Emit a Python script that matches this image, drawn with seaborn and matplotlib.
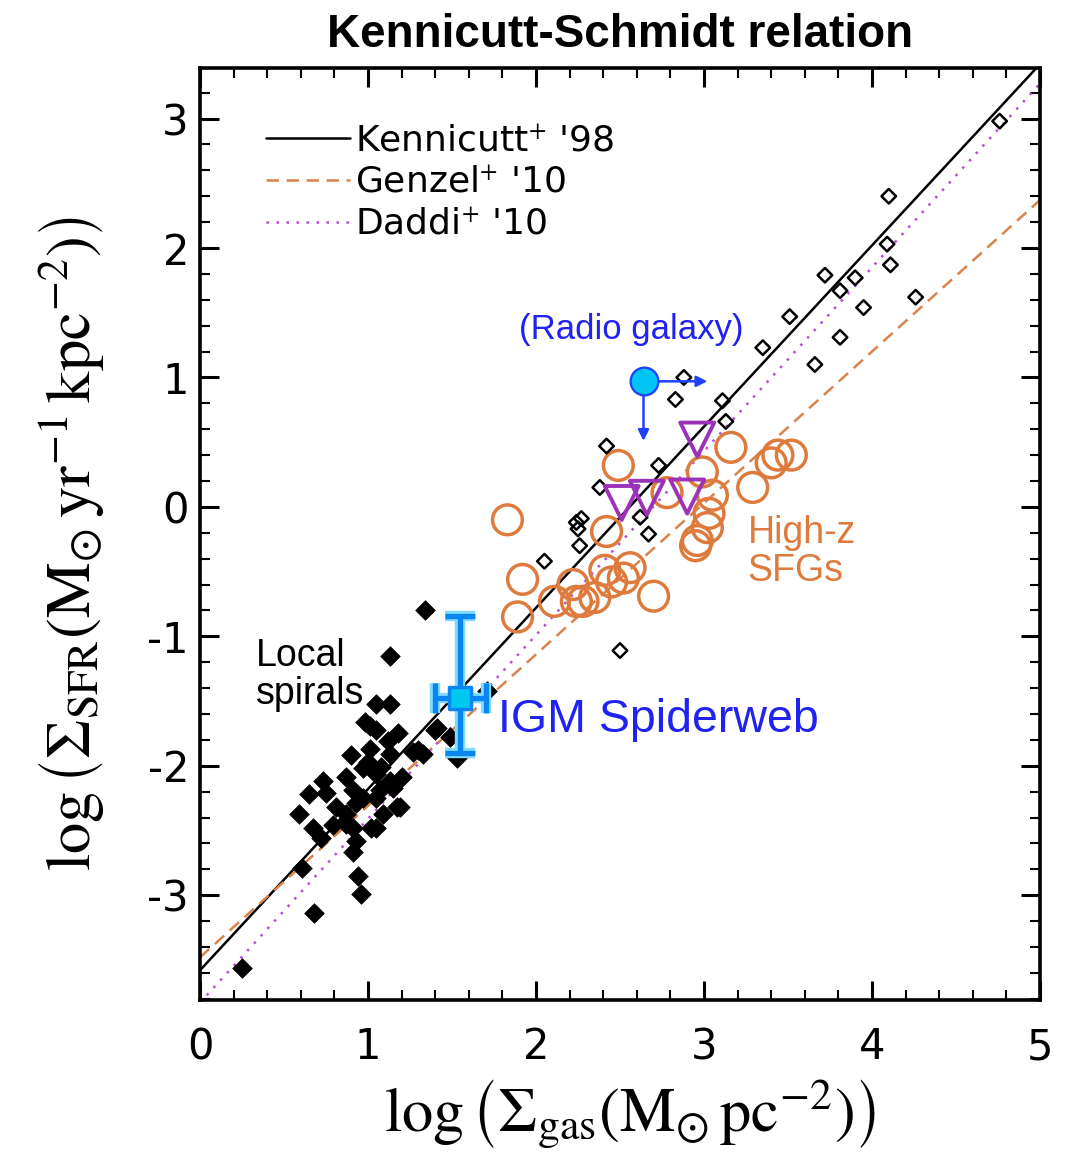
import numpy as np
import pandas as pd
import matplotlib
matplotlib.use("Agg")
import matplotlib.pyplot as plt
import seaborn as sns
from matplotlib.ticker import MultipleLocator

# ---------------- data ----------------
local_x = [1.34, 1.13, 1.05, 1.13, 0.98, 1.01, 1.05, 1.18, 1.12, 1.71, 1.53, 1.41,
           0.90, 1.01, 1.00, 1.08, 1.13, 1.27, 1.33, 0.73, 0.65, 0.87, 0.91, 0.75,
           0.97, 1.05, 1.13, 1.20, 1.07, 1.15, 0.59, 0.81, 0.87, 0.93, 0.97, 1.05,
           1.17, 1.09, 1.19, 0.67, 0.72, 0.79, 0.87, 0.91, 1.02, 1.05, 0.93, 0.91,
           0.61, 0.94, 0.96, 0.68, 0.25, 1.30, 1.49, 1.40]
local_y = [-0.80, -1.15, -1.52, -1.52, -1.66, -1.69, -1.72, -1.75, -1.81, -1.42, -1.94, -1.71,
           -1.92, -1.87, -1.97, -2.01, -1.91, -1.89, -1.91, -2.12, -2.22, -2.09, -2.19, -2.21,
           -2.02, -2.06, -2.12, -2.09, -2.19, -2.17, -2.37, -2.32, -2.37, -2.29, -2.25, -2.25,
           -2.32, -2.37, -2.32, -2.48, -2.56, -2.46, -2.45, -2.48, -2.48, -2.48, -2.58, -2.67,
           -2.79, -2.85, -2.99, -3.14, -3.56, -1.88, -1.78, -1.72]

starburst_x = [4.76, 4.10, 4.09, 4.11, 4.26, 3.72, 3.81, 3.90, 3.95, 3.81, 3.51, 3.66,
               3.35, 2.88, 2.83, 3.11, 3.13, 2.42, 2.73, 2.38, 2.27, 2.25, 2.26, 2.05,
               2.62, 2.67, 2.50, 2.24]
starburst_y = [2.98, 2.40, 2.03, 1.87, 1.62, 1.79, 1.67, 1.77, 1.54, 1.31, 1.47, 1.10,
               1.23, 1.00, 0.83, 0.82, 0.66, 0.47, 0.32, 0.15, -0.09, -0.17, -0.30, -0.42,
               -0.08, -0.21, -1.11, -0.12]

sfg_x = [1.83, 2.49, 3.16, 2.99, 3.44, 3.52, 3.40, 3.29, 3.05, 3.03, 3.02, 2.96,
         2.95, 2.42, 1.92, 1.89, 2.11, 2.22, 2.28, 2.41, 2.45, 2.56, 2.70, 2.78,
         2.35, 2.52, 2.24]
sfg_y = [-0.10, 0.32, 0.46, 0.27, 0.40, 0.40, 0.34, 0.15, 0.09, -0.05, -0.16, -0.26,
         -0.30, -0.19, -0.56, -0.85, -0.73, -0.60, -0.73, -0.49, -0.58, -0.47, -0.69, 0.11,
         -0.70, -0.55, -0.73]

tri_x = [2.96, 2.51, 2.66, 2.90]
tri_y = [0.52, 0.03, 0.07, 0.08]

radio_x = [2.64]
radio_y = [0.97]
radio_xlim_end = [3.02]
radio_ylim_end = [0.51]

igm_x = [1.55]
igm_y = [-1.48]
igm_yerr_up = [0.64]
igm_yerr_lo = [0.42]
igm_xerr = [0.15]

rel_names = ["Kennicutt$^{+}$ '98", "Genzel$^{+}$ '10", "Daddi$^{+}$ '10"]
rel_slope = [1.40, 1.17, 1.42]
rel_icept = [-3.58, -3.48, -3.83]
rel_xrange = [0.0, 5.0]

xtick_vals = [0, 1, 2, 3, 4, 5]
xtick_labels = ["0", "1", "2", "3", "4", "5"]
ytick_vals = [-3, -2, -1, 0, 1, 2, 3]
ytick_labels = ["-3", "-2", "-1", "0", "1", "2", "3"]

# ---------------- style ----------------
sns.set_theme(style="ticks")
plt.rcParams["font.family"] = ["DejaVu Sans"]
plt.rcParams["mathtext.fontset"] = "stix"
plt.rcParams["text.color"] = "black"
plt.rcParams["axes.labelcolor"] = "black"
plt.rcParams["xtick.color"] = "black"
plt.rcParams["ytick.color"] = "black"

ORANGE = "#dd7a3c"
PURPLE = "#9b32b8"
DADDI = "#b84bd8"
GENZEL = "#d9824c"
BLUE_TXT = "#1f22f0"

fig = plt.figure(figsize=(10.65, 11.6), dpi=100)
ax = fig.add_axes([0.1878, 0.1379, 0.7887, 0.8034])

# relations
xr = np.array(rel_xrange)
styles = [("black", "-"), (GENZEL, (0, (5, 3))), (DADDI, (0, (1, 3)))]
for name, m, b, (c, ls) in zip(rel_names, rel_slope, rel_icept, styles):
    sns.lineplot(x=xr, y=m * xr + b, ax=ax, color=c, linestyle=ls, lw=1.8,
                 label=name, zorder=2)

# points
sns.scatterplot(x=local_x, y=local_y, ax=ax, marker="D", s=100, color="black",
                edgecolor="black", linewidth=0.5, zorder=3)
sns.scatterplot(x=sfg_x, y=sfg_y, ax=ax, marker="o", s=460, facecolor="none",
                edgecolor=ORANGE, linewidth=2.5, zorder=3)
sns.scatterplot(x=starburst_x, y=starburst_y, ax=ax, marker="D", s=55,
                facecolor="none", edgecolor="black", linewidth=1.8, zorder=4)
sns.scatterplot(x=tri_x, y=tri_y, ax=ax, marker="v", s=600, facecolor="none",
                edgecolor=PURPLE, linewidth=2.8, zorder=5)

# radio galaxy with limits
for x0, y0, x1, y1 in zip(radio_x, radio_y, radio_xlim_end, radio_ylim_end):
    ax.annotate("", xy=(x1, y0), xytext=(x0, y0),
                arrowprops=dict(arrowstyle="-|>", color="#2040ff", lw=1.8,
                                mutation_scale=16, shrinkA=0, shrinkB=0), zorder=6)
    ax.annotate("", xy=(x0, y1), xytext=(x0, y0),
                arrowprops=dict(arrowstyle="-|>", color="#2040ff", lw=1.8,
                                mutation_scale=16, shrinkA=0, shrinkB=0), zorder=6)
sns.scatterplot(x=radio_x, y=radio_y, ax=ax, marker="o", s=400, color="#00c4f4",
                edgecolor="#2040ff", linewidth=1.6, zorder=7)

# IGM Spiderweb
for lw, col in [(7.5, "#7fdcff"), (3.8, "#0a86f2")]:
    ax.errorbar(igm_x, igm_y, yerr=[igm_yerr_lo, igm_yerr_up], xerr=igm_xerr,
                fmt="none", ecolor=col, elinewidth=lw, capsize=11, capthick=lw,
                zorder=8)
ax.scatter(igm_x, igm_y, marker="s", s=230, color="#00c8f0", edgecolor="#0a86f2",
           linewidth=2.5, zorder=9)

# annotations
ax.text(0.33, -1.30, "Local\nspirals", fontsize=27, family="Liberation Sans",
        color="black", ha="left", va="center", linespacing=1.08)
ax.text(2.73, -1.65, "IGM Spiderweb", fontsize=33.5, family="Liberation Sans",
        color=BLUE_TXT, ha="center", va="center")
ax.text(2.57, 1.37, "(Radio galaxy)", fontsize=25, family="Liberation Sans",
        color=BLUE_TXT, ha="center", va="center")
ax.text(3.26, -0.35, "High-z\nSFGs", fontsize=27, family="Liberation Sans",
        color=ORANGE, ha="left", va="center", linespacing=1.08)

# axes
ax.set_xlim(0, 5)
ax.set_ylim(-3.81, 3.39)
ax.set_xticks(xtick_vals)
ax.set_xticklabels(xtick_labels)
ax.set_yticks(ytick_vals)
ax.set_yticklabels(ytick_labels)
ax.xaxis.set_minor_locator(MultipleLocator(0.2))
ax.yaxis.set_minor_locator(MultipleLocator(0.2))
ax.tick_params(which="both", direction="in", top=True, right=True, colors="black")
ax.tick_params(which="major", length=14, width=2.2, labelsize=30)
ax.tick_params(axis="x", which="major", pad=19)
ax.tick_params(axis="y", which="major", pad=8)
ax.tick_params(which="minor", length=7, width=1.5)
for sp in ax.spines.values():
    sp.set_linewidth(2.6)
    sp.set_color("black")

ax.set_xlabel(r"$\log\left(\Sigma_{\rm gas}(\rm M_{\odot}\,pc^{-2})\right)$", fontsize=45)
ax.set_ylabel(r"$\log\left(\Sigma_{\rm SFR}(\rm M_{\odot}\,yr^{-1}\,kpc^{-2})\right)$", fontsize=45)
ax.xaxis.set_label_coords(0.512, -0.084)
ax.yaxis.set_label_coords(-0.111, 0.49)

ax.set_title("Kennicutt-Schmidt relation", fontsize=33, fontweight="bold",
             family="Liberation Sans", pad=15, color="black")

leg = ax.legend(loc="upper left", bbox_to_anchor=(0.078, 0.940), frameon=False,
                fontsize=26, handlelength=2.35, handletextpad=0.14,
                labelspacing=0.21, borderaxespad=0, borderpad=0)
for t in leg.get_texts():
    t.set_color("black")

fig.savefig("out.png", dpi=100)
